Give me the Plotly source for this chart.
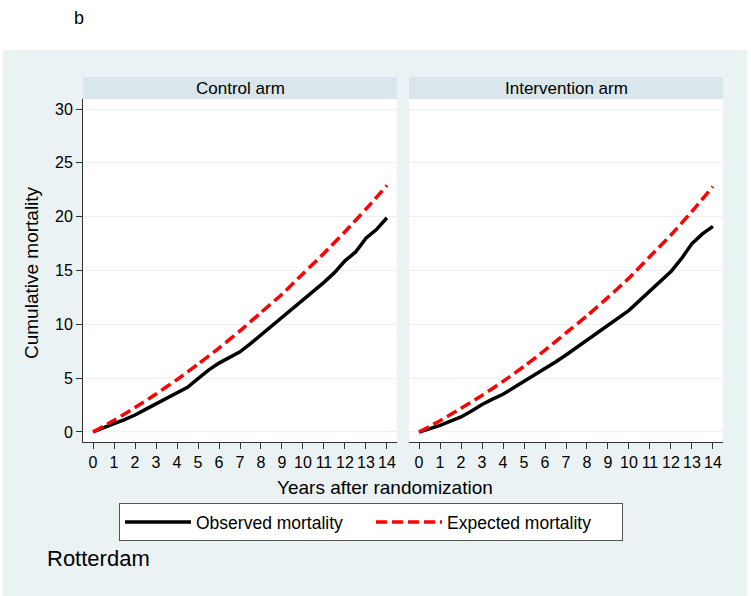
import plotly.graph_objects as go

years_obs = [0, 0.5, 1, 1.5, 2, 2.5, 3, 3.5, 4, 4.5, 5, 5.5, 6, 6.5, 7, 7.5, 8, 8.5, 9, 9.5,
             10, 10.5, 11, 11.5, 12, 12.5, 13, 13.5, 14]
control_observed = [0, 0.35, 0.78, 1.15, 1.58, 2.1, 2.62, 3.1, 3.62, 4.15, 4.95, 5.75, 6.4, 6.95, 7.45,
                    8.2, 9.0, 9.8, 10.6, 11.4, 12.2, 13.0, 13.9, 14.8, 15.9, 16.7, 18.0, 18.8, 19.9]
intervention_observed = [0, 0.3, 0.62, 1.0, 1.4, 1.95, 2.55, 3.05, 3.5, 4.1, 4.7, 5.3, 5.85, 6.5, 7.15,
                         7.85, 8.55, 9.25, 9.95, 10.6, 11.3, 12.2, 13.1, 13.9, 14.9, 16.1, 17.5, 18.4, 19.1]

years_exp = [0, 1, 2, 3, 4, 5, 6, 7, 8, 9, 10, 11, 12, 13, 14]
control_expected = [0, 1.09, 2.27, 3.53, 4.87, 6.3, 7.8, 9.4, 11.1, 12.8, 14.7, 16.6, 18.6, 20.7, 22.9]
intervention_expected = [0, 1.05, 2.2, 3.4, 4.7, 6.1, 7.6, 9.2, 10.8, 12.5, 14.3, 16.3, 18.3, 20.5, 22.8]

panel_titles = ["Control arm", "Intervention arm"]
x_ticks = list(range(0, 15))
y_ticks = [0, 5, 10, 15, 20, 25, 30]

FONT = "Liberation Sans, Arial, sans-serif"
BG = "#EAF2F3"
STRIP = "#D9E6EB"
RED = "#FF0000"
W, H = 751, 596

def px_x(p):
    return p / W

def px_y(p):
    return (H - p) / H

fig = go.Figure()

obs_sets = [control_observed, intervention_observed]
exp_sets = [control_expected, intervention_expected]
for i in range(2):
    xa = "x" if i == 0 else "x2"
    ya = "y" if i == 0 else "y2"
    fig.add_trace(go.Scatter(x=years_obs, y=obs_sets[i], mode="lines", name="Observed mortality",
                             line=dict(color="black", width=3.5), xaxis=xa, yaxis=ya,
                             showlegend=(i == 0), legendrank=1))
    fig.add_trace(go.Scatter(x=years_exp, y=exp_sets[i], mode="lines", name="Expected mortality",
                             line=dict(color=RED, width=3.5, dash="11px,5px", shape="spline", smoothing=0.6),
                             xaxis=xa, yaxis=ya, showlegend=(i == 0), legendrank=2))

x_doms = [[px_x(83), px_x(397)], [px_x(409), px_x(723)]]
y_dom = [px_y(442), px_y(99)]

common_x = dict(range=[-0.48, 14.48], tickvals=x_ticks, ticks="outside", ticklen=6, tickcolor="#333",
                showline=True, linecolor="#333", linewidth=1, showgrid=False, zeroline=False,
                tickfont=dict(family=FONT, size=16, color="black"), fixedrange=True)
common_y = dict(range=[-0.93, 30.93], tickvals=y_ticks, showgrid=True, gridcolor=BG, gridwidth=1,
                zeroline=False, fixedrange=True)

fig.update_layout(
    xaxis=dict(domain=x_doms[0], anchor="y", **common_x),
    xaxis2=dict(domain=x_doms[1], anchor="y2", **common_x),
    yaxis=dict(domain=y_dom, anchor="x", ticks="outside", ticklen=6, tickcolor="#333",
               showline=True, linecolor="#333", linewidth=1,
               tickfont=dict(family=FONT, size=16, color="black"), **common_y),
    yaxis2=dict(domain=y_dom, anchor="x2", showticklabels=False, ticks="", showline=False, **common_y),
    width=W, height=H,
    margin=dict(l=0, r=0, t=0, b=0),
    paper_bgcolor="white",
    plot_bgcolor="white",
    font=dict(family=FONT, color="black"),
    showlegend=True,
    legend=dict(orientation="h", x=px_x(119), y=px_y(503), xanchor="left", yanchor="top",
                bgcolor="white", bordercolor="#555", borderwidth=1,
                font=dict(family=FONT, size=17.5, color="black"),
                itemwidth=66, entrywidth=170, entrywidthmode="pixels",
                traceorder="normal"),
)

shapes = [
    dict(type="rect", xref="paper", yref="paper", x0=px_x(3), x1=px_x(747), y0=0, y1=px_y(50),
         fillcolor=BG, line=dict(width=0), layer="below"),
]
for i in range(2):
    shapes.append(dict(type="rect", xref="paper", yref="paper", x0=x_doms[i][0], x1=x_doms[i][1],
                       y0=px_y(99), y1=px_y(77), fillcolor=STRIP, line=dict(width=0), layer="below"))
    shapes.append(dict(type="rect", xref="paper", yref="paper", x0=x_doms[i][0], x1=x_doms[i][1],
                       y0=y_dom[0], y1=y_dom[1], fillcolor="white", line=dict(width=0), layer="below"))
fig.update_layout(shapes=shapes)

annotations = []
for i in range(2):
    annotations.append(dict(text=panel_titles[i], xref="paper", yref="paper",
                            x=(x_doms[i][0] + x_doms[i][1]) / 2, y=px_y(88), xanchor="center", yanchor="middle",
                            showarrow=False, font=dict(family=FONT, size=17, color="black")))
annotations += [
    dict(text="Years after randomization", xref="paper", yref="paper", x=px_x(385), y=px_y(487),
         xanchor="center", yanchor="middle", showarrow=False, font=dict(family=FONT, size=19, color="black")),
    dict(text="Cumulative mortality", xref="paper", yref="paper", x=px_x(31), y=px_y(273),
         xanchor="center", yanchor="middle", textangle=-90, showarrow=False,
         font=dict(family=FONT, size=19, color="black")),
    dict(text="Rotterdam", xref="paper", yref="paper", x=px_x(45), y=px_y(558),
         xanchor="left", yanchor="middle", showarrow=False, font=dict(family=FONT, size=22, color="black")),
    dict(text="b", xref="paper", yref="paper", x=px_x(72), y=px_y(18),
         xanchor="left", yanchor="middle", showarrow=False, font=dict(family=FONT, size=18, color="black")),
]
fig.update_layout(annotations=annotations)

fig.write_html("out.html", config={"displayModeBar": False},
               post_script="document.body.style.margin='0';document.body.style.overflow='hidden';")
